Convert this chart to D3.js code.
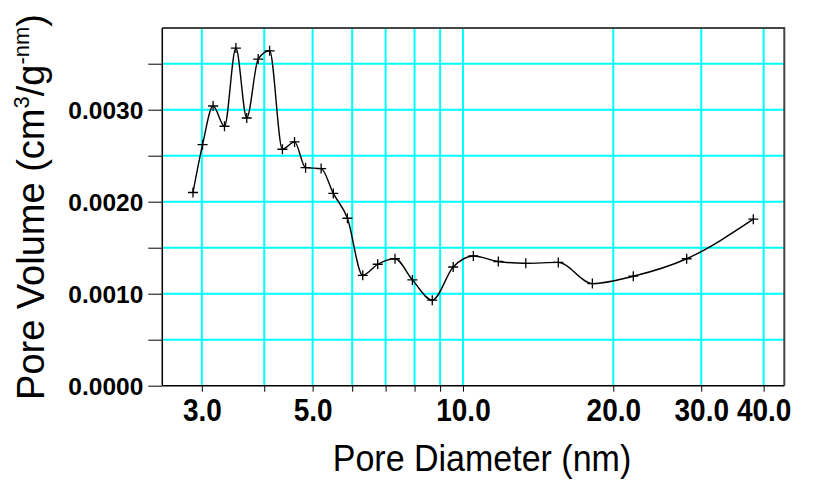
<!DOCTYPE html>
<html>
<head>
<meta charset="utf-8">
<script src="https://cdn.jsdelivr.net/npm/d3@7"></script>
<style>
  html, body { margin: 0; padding: 0; background: #fff; }
  svg { display: block; }
  text { font-family: "Liberation Sans", Arial, sans-serif; }
</style>
</head>
<body>
<svg id="chart" width="813" height="482"></svg>
<script>
// Pore size distribution: pore diameter (nm) vs pore volume
const diameters = [2.88, 3.01, 3.16, 3.33, 3.51, 3.69, 3.89, 4.10, 4.35, 4.60,
                   4.84, 5.20, 5.50, 5.87, 6.30, 6.75, 7.31, 7.92, 8.68, 9.56,
                   10.49, 11.77, 13.36, 15.52, 18.16, 21.93, 28.05, 38.14];
const volumes = [0.00210, 0.00262, 0.00304, 0.00282, 0.00367, 0.00291, 0.00355, 0.00364, 0.00257, 0.00265,
                 0.00237, 0.00236, 0.00209, 0.00182, 0.00120, 0.00132, 0.00138, 0.00115, 0.00093, 0.00129,
                 0.00141, 0.00135, 0.00133, 0.00134, 0.00111, 0.00119, 0.00138, 0.00181];

const xGridValues = [3, 4, 5, 6, 7, 8, 9, 10, 20, 30, 40];
const xLabelValues = [3, 5, 10, 20, 30, 40];
const xLabels = ["3.0", "5.0", "10.0", "20.0", "30.0", "40.0"];
const yGridValues = [0.0005, 0.0010, 0.0015, 0.0020, 0.0025, 0.0030, 0.0035];
const yLabelValues = [0.0000, 0.0010, 0.0020, 0.0030];
const yLabels = ["0.0000", "0.0010", "0.0020", "0.0030"];

const margin = { left: 162.3, right: 784.3, top: 28, bottom: 385.7 };
const svg = d3.select("#chart");

const x = d3.scaleLog().domain([2.5, 44]).range([margin.left, margin.right]);
const y = d3.scaleLinear().domain([0, 0.003888]).range([margin.bottom, margin.top]);

// grid
const grid = svg.append("g");
grid.selectAll("line.vg").data(xGridValues).join("line")
  .attr("x1", d => x(d)).attr("x2", d => x(d))
  .attr("y1", margin.top).attr("y2", margin.bottom)
  .attr("stroke", "#00ffff").attr("stroke-width", 2);
grid.selectAll("line.hg").data(yGridValues).join("line")
  .attr("x1", margin.left).attr("x2", margin.right)
  .attr("y1", d => y(d)).attr("y2", d => y(d))
  .attr("stroke", "#00ffff").attr("stroke-width", 2);

// frame (top and right)
svg.append("path")
  .attr("d", `M${margin.left},${margin.top}H${margin.right}V${margin.bottom}`)
  .attr("fill", "none").attr("stroke", "#444").attr("stroke-width", 2);

// x axis
const xAxis = d3.axisBottom(x)
  .tickValues(xGridValues)
  .tickSize(6)
  .tickFormat(d => { const i = xLabelValues.indexOf(d); return i >= 0 ? xLabels[i] : ""; });
const gx = svg.append("g").attr("transform", `translate(0,${margin.bottom})`).call(xAxis);
gx.select(".domain").attr("d", `M${margin.left},0H${margin.right}`).attr("stroke", "#000").attr("stroke-width", 1.5);
gx.selectAll(".tick line").attr("stroke", "#000");
gx.selectAll(".tick text")
  .attr("font-size", 28).attr("font-weight", "bold").attr("fill", "#000")
  .attr("y", 0).attr("dy", 0)
  .attr("transform", "translate(0,35) scale(1,1.1)");

// y axis
const yAxis = d3.axisLeft(y)
  .tickValues([0].concat(yGridValues))
  .tickSize(14)
  .tickFormat(d => { const i = yLabelValues.findIndex(v => Math.abs(v - d) < 1e-9); return i >= 0 ? yLabels[i] : ""; });
const gy = svg.append("g").attr("transform", `translate(${margin.left},0)`).call(yAxis);
gy.select(".domain").attr("d", `M0,${margin.top}V${margin.bottom}`).attr("stroke", "#000").attr("stroke-width", 1.5);
gy.selectAll(".tick line").attr("stroke", "#000");
gy.selectAll(".tick text")
  .attr("font-size", 24.5).attr("font-weight", "bold").attr("fill", "#000")
  .attr("x", -19).attr("dy", "0.36em");

// data line
const pts = diameters.map((d, i) => [d, volumes[i]]);
svg.append("path")
  .datum(pts)
  .attr("fill", "none").attr("stroke", "#000").attr("stroke-width", 1.4)
  .attr("d", d3.line().x(d => x(d[0])).y(d => y(d[1])).curve(d3.curveMonotoneX));

// "+" markers
const m = svg.append("g");
m.selectAll("path").data(pts).join("path")
  .attr("d", d => `M${x(d[0]) - 5},${y(d[1])}h10M${x(d[0])},${y(d[1]) - 5}v10`)
  .attr("stroke", "#000").attr("stroke-width", 1.3);

// axis titles
svg.append("text")
  .attr("transform", "translate(482,471) scale(1,1.08)")
  .attr("text-anchor", "middle").attr("font-size", 34).attr("fill", "#000")
  .text("Pore Diameter (nm)");

const yt = svg.append("text")
  .attr("transform", "translate(44,207) rotate(-90)")
  .attr("text-anchor", "middle").attr("font-size", 38).attr("fill", "#000");
yt.append("tspan").text("Pore Volume (cm");
yt.append("tspan").attr("font-size", 22).attr("dy", -15).text("3");
yt.append("tspan").attr("dy", 15).text("/g");
yt.append("tspan").attr("font-size", 22).attr("dy", -15).text("-nm");
yt.append("tspan").attr("dy", 15).text(")");
</script>
</body>
</html>
